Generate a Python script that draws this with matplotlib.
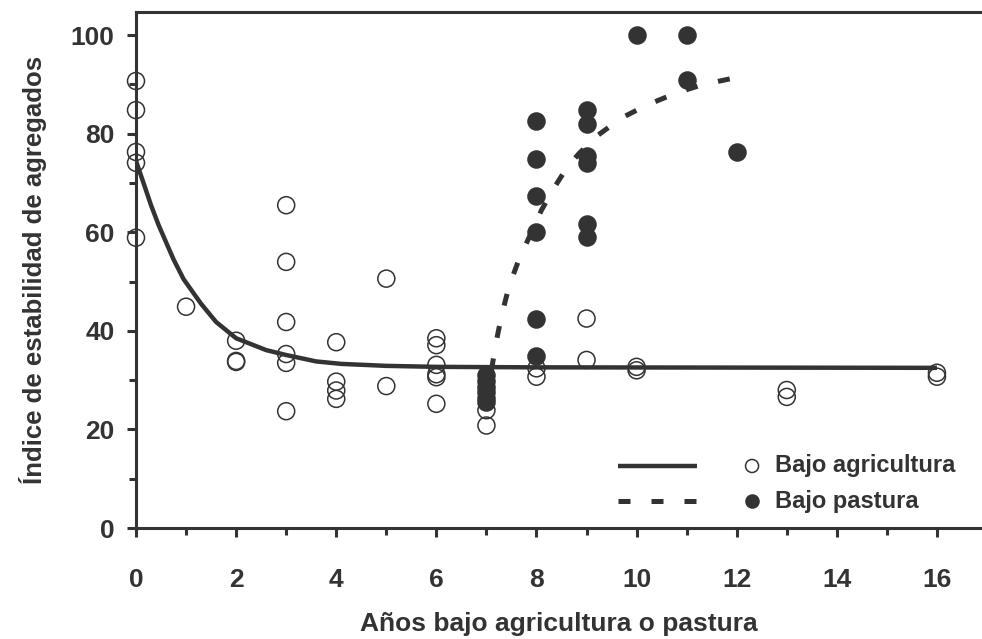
import numpy as np
import matplotlib.pyplot as plt
from matplotlib.ticker import MultipleLocator

plt.rcParams['font.family'] = ['Liberation Sans', 'DejaVu Sans']
plt.rcParams['font.weight'] = 'bold'

INK = '#333333'

# ------------------------------------------------------------
# DATA
# ------------------------------------------------------------

# open circles: years under cropping
agri_x = [0, 0, 0, 0, 0,
          1,
          2, 2, 2,
          3, 3, 3, 3, 3, 3,
          4, 4, 4, 4,
          5, 5,
          6, 6, 6, 6, 6, 6,
          7, 7,
          8, 8,
          9, 9,
          10, 10,
          13, 13,
          16, 16]
agri_y = [90.7, 84.8, 76.3, 74.1, 58.9,
          44.9,
          38.0, 33.7, 33.9,
          65.5, 54.0, 41.8, 35.3, 33.5, 23.7,
          37.7, 29.7, 27.9, 26.2,
          50.6, 28.8,
          38.5, 37.1, 33.1, 31.2, 30.6, 25.2,
          23.9, 20.8,
          32.4, 30.7,
          42.5, 34.1,
          32.7, 32.0,
          28.0, 26.6,
          31.5, 30.7]

# filled circles: years under pasture
past_x = [7, 7, 7, 7, 7, 7,
          8, 8, 8, 8, 8, 8,
          9, 9, 9, 9, 9, 9,
          10,
          11, 11,
          12]
past_y = [31.0, 29.8, 28.6, 27.5, 26.4, 25.5,
          82.6, 74.8, 67.3, 60.1, 42.5, 34.9,
          84.9, 81.9, 75.5, 74.1, 61.7, 59.0,
          100.0,
          100.0, 90.9,
          76.3]

# fitted trend, cropping
fit_agri_x = [0, 0.1, 0.2, 0.3, 0.45, 0.6, 0.75, 0.95, 1.3, 1.6, 2.0, 2.6, 3.0, 3.6, 4.1, 5.0, 6.0, 8.0, 16.0]
fit_agri_y = [74.5, 71.5, 68.5, 65.5, 61.5, 58.0, 54.5, 50.5, 45.5, 41.8, 38.5, 36.1, 35.1, 33.8, 33.3, 32.9, 32.7, 32.6, 32.5]

# fitted trend, pasture
fit_past_x = [7.1, 7.2, 7.3, 7.45, 7.65, 7.9, 8.1, 8.35, 8.6, 8.85, 9.2, 9.7, 10.2, 10.8, 11.3, 11.8, 12.0]
fit_past_y = [32.0, 38.0, 43.0, 49.0, 54.5, 60.0, 64.5, 69.0, 73.0, 76.0, 79.5, 83.2, 85.8, 88.3, 89.9, 91.0, 91.4]

# ------------------------------------------------------------
# PLOT
# ------------------------------------------------------------

fig = plt.figure(figsize=(9.82, 6.39), dpi=100)
ax = fig.add_axes([0.1385, 0.1737, 0.8615, 0.8075])

solid_style = dict(color=INK, linewidth=3.2, solid_capstyle='butt', solid_joinstyle='round')
dash_style = dict(color=INK, linewidth=3.6, dashes=(2.4, 4.2), dash_capstyle='butt')
open_style = dict(s=150, facecolors='none', edgecolors=INK, linewidths=1.1)
fill_style = dict(s=150, facecolors=INK, edgecolors=INK, linewidths=1.1)

ax.scatter(agri_x, agri_y, clip_on=False, zorder=3, **open_style)
ax.scatter(past_x, past_y, clip_on=False, zorder=4, **fill_style)
ax.plot(fit_agri_x, fit_agri_y, zorder=5, **solid_style)
ax.plot(fit_past_x, fit_past_y, zorder=5, **dash_style)

ax.set_xlim(0, 16.9)
ax.set_ylim(0, 104.7)

ax.xaxis.set_major_locator(MultipleLocator(2))
ax.xaxis.set_minor_locator(MultipleLocator(1))
ax.yaxis.set_major_locator(MultipleLocator(20))
ax.yaxis.set_minor_locator(MultipleLocator(10))

for side in ['left', 'bottom', 'top']:
    ax.spines[side].set_linewidth(2.2)
    ax.spines[side].set_color(INK)
ax.spines['right'].set_visible(False)

ax.tick_params(which='major', direction='out', length=6.5, width=2.2, color=INK,
               labelsize=19, labelcolor=INK)
ax.tick_params(which='minor', direction='out', length=5, width=2.2, color=INK)
ax.tick_params(axis='x', which='major', pad=22)
ax.tick_params(axis='y', which='major', pad=9)

ax.set_xlabel('Años bajo agricultura o pastura', fontsize=19, color=INK,
              fontweight='bold', labelpad=15)
ax.set_ylabel('Índice de estabilidad de agregados', fontsize=18.5, color=INK,
              fontweight='bold', labelpad=17)

# key: line samples on the left, symbols with names on the right
tr = ax.transAxes
ax.plot([0.5698, 0.6632], [0.1202, 0.1202], transform=tr, **solid_style)
ax.plot([0.5698, 0.6632], [0.0523, 0.0523], transform=tr, **dash_style)
ax.scatter([0.7282], [0.1202], transform=tr, s=88, facecolors='none',
           edgecolors=INK, linewidths=1.1)
ax.scatter([0.7282], [0.0523], transform=tr, s=88, facecolors=INK,
           edgecolors=INK, linewidths=1.1)
ax.text(0.7553, 0.1202, 'Bajo agricultura', transform=tr, fontsize=17,
        color=INK, fontweight='bold', va='center', ha='left')
ax.text(0.7553, 0.0523, 'Bajo pastura', transform=tr, fontsize=17,
        color=INK, fontweight='bold', va='center', ha='left')

fig.savefig('out.png', dpi=100)
